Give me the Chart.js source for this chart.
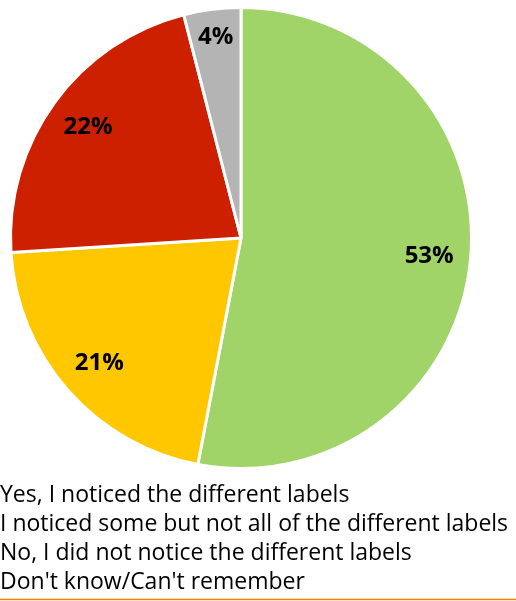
<!DOCTYPE html>
<html>
<head>
<meta charset="utf-8">
<script src="https://cdn.jsdelivr.net/npm/chart.js@4/dist/chart.umd.min.js"></script>
<style>
  body { margin: 0; background: #fff; }
  canvas { display: block; }
</style>
</head>
<body>
<canvas id="pieChart" width="516" height="601"></canvas>
<script>
// Survey answers and their shares (percent)
const answers = [
    'Yes, I noticed the different labels',
    'I noticed some but not all of the different labels',
    'No, I did not notice the different labels',
    "Don't know/Can't remember"
];
const shares = [53, 21, 22, 4];
const sliceColors = ['#A0D468', '#FFC700', '#CC2000', '#B4B4B4'];

// Percent labels inside each slice
const sliceLabels = {
    id: 'sliceLabels',
    afterDatasetsDraw(chart) {
        const ctx = chart.ctx;
        const arcs = chart.getDatasetMeta(0).data;
        ctx.save();
        ctx.font = 'bold 24px "Open Sans"';
        ctx.fillStyle = '#000';
        ctx.textAlign = 'center';
        ctx.textBaseline = 'middle';
        arcs.forEach((arc, i) => {
            const mid = (arc.startAngle + arc.endAngle) / 2;
            // small slices get their label pushed further out
            const r = arc.outerRadius * (shares[i] < 10 ? 0.88 : 0.82);
            const x = arc.x + Math.cos(mid) * r;
            const y = arc.y + Math.sin(mid) * r;
            ctx.fillText(shares[i] + '%', x, y);
        });
        ctx.restore();
    }
};

// Plain text legend under the pie, plus the rule at the bottom
const textLegend = {
    id: 'textLegend',
    afterDraw(chart) {
        const ctx = chart.ctx;
        ctx.save();
        ctx.font = '23px "Open Sans"';
        ctx.fillStyle = '#000';
        ctx.textAlign = 'left';
        ctx.textBaseline = 'alphabetic';
        chart.data.labels.forEach((label, i) => {
            ctx.fillText(label, 0, 502 + i * 29);
        });
        ctx.strokeStyle = '#F08010';
        ctx.lineWidth = 1.5;
        ctx.beginPath();
        ctx.moveTo(0, 599.5);
        ctx.lineTo(516, 599.5);
        ctx.stroke();
        ctx.restore();
    }
};

new Chart(document.getElementById('pieChart').getContext('2d'), {
    type: 'pie',
    data: {
        labels: answers,
        datasets: [{
            data: shares,
            backgroundColor: sliceColors,
            borderColor: '#fff',
            borderWidth: 3
        }]
    },
    options: {
        responsive: false,
        animation: false,
        layout: {
            padding: { left: 9, top: 6, right: 43, bottom: 131 }
        },
        plugins: {
            legend: { display: false },
            tooltip: { enabled: false }
        }
    },
    plugins: [sliceLabels, textLegend]
});
</script>
</body>
</html>
